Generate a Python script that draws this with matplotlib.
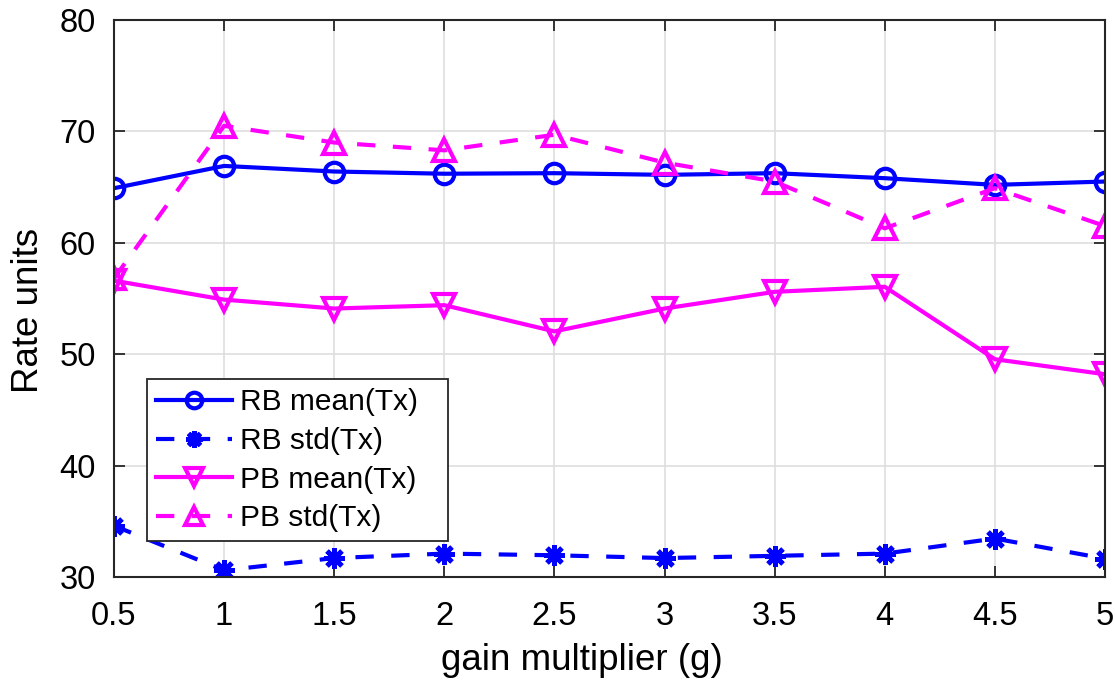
import matplotlib as mpl
mpl.use("Agg")
import matplotlib.pyplot as plt
import numpy as np

plt.rcParams['font.family'] = ['Liberation Sans', 'DejaVu Sans']

# gain multiplier values
gain = [0.5, 1.0, 1.5, 2.0, 2.5, 3.0, 3.5, 4.0, 4.5, 5.0]

# series
rb_mean = [64.9, 66.9, 66.4, 66.2, 66.25, 66.1, 66.25, 65.8, 65.2, 65.5]
rb_std = [34.6, 30.6, 31.7, 32.1, 31.95, 31.7, 31.9, 32.1, 33.45, 31.65]
pb_mean = [56.6, 54.9, 54.1, 54.4, 52.05, 54.1, 55.6, 56.05, 49.55, 48.2]
pb_std = [56.8, 70.5, 69.0, 68.3, 69.7, 67.2, 65.5, 61.3, 64.9, 61.5]

labels = ["RB mean(Tx)", "RB std(Tx)", "PB mean(Tx)", "PB std(Tx)"]
xticks = [0.5, 1, 1.5, 2, 2.5, 3, 3.5, 4, 4.5, 5]
xticklabels = ["0.5", "1", "1.5", "2", "2.5", "3", "3.5", "4", "4.5", "5"]
yticks = [30, 40, 50, 60, 70, 80]

blue = "#0000ff"
mag = "#ff00ff"
dash = (4.4, 4.2)

fig = plt.figure(figsize=(11.15, 6.84), dpi=100)
ax = fig.add_axes([114 / 1115, 107 / 684, 991 / 1115, 557 / 684])

ax.plot(gain, rb_mean, color=blue, lw=3, marker="o", ms=14, mew=3,
        mfc="none", label=labels[0])
ax.plot(gain, rb_std, color=blue, lw=3, ls=(0, dash), marker=(8, 2, 0),
        ms=15, mew=3.5, label=labels[1])
ax.plot(gain, pb_mean, color=mag, lw=3, marker="v", ms=16, mew=3,
        mfc="none", label=labels[2])
ax.plot(gain, pb_std, color=mag, lw=3, ls=(0, dash), marker="^", ms=16,
        mew=3, mfc="none", label=labels[3])

ax.set_xlim(0.5, 5)
ax.set_ylim(30, 80)
ax.set_xticks(xticks)
ax.set_xticklabels(xticklabels)
ax.set_yticks(yticks)

ax.grid(True, color="#dedede", lw=1.2)
ax.set_axisbelow(True)
for s in ax.spines.values():
    s.set_color("#262626")
    s.set_linewidth(1.5)
ax.tick_params(direction="in", length=8, width=1.3, color="#262626",
               labelsize=23.5, top=True, right=True)
ax.tick_params(axis="y", pad=13)
ax.tick_params(axis="x", pad=17)

ax.set_xlabel("gain multiplier (g)", fontsize=26.5)
ax.set_ylabel("Rate units", fontsize=26.5)
ax.xaxis.set_label_coords((582 - 114) / 991, -(661 - 577) / 557)
ax.yaxis.set_label_coords((28 - 114) / 991, (577 - 310) / 557)
ax.xaxis.label.set_va("center")
ax.yaxis.label.set_va("center")

leg = ax.legend(loc="upper left", bbox_to_anchor=(0.033, 0.355, 0.3036, 0.0),
                mode="expand", borderaxespad=0, fontsize=21.5, frameon=True,
                fancybox=False, edgecolor="#262626", framealpha=1,
                handlelength=2.55, labelspacing=0.36, borderpad=0.3,
                handletextpad=0.27, markerscale=0.8)
leg.get_frame().set_linewidth(1.3)

fig.savefig("out.png", dpi=100)
